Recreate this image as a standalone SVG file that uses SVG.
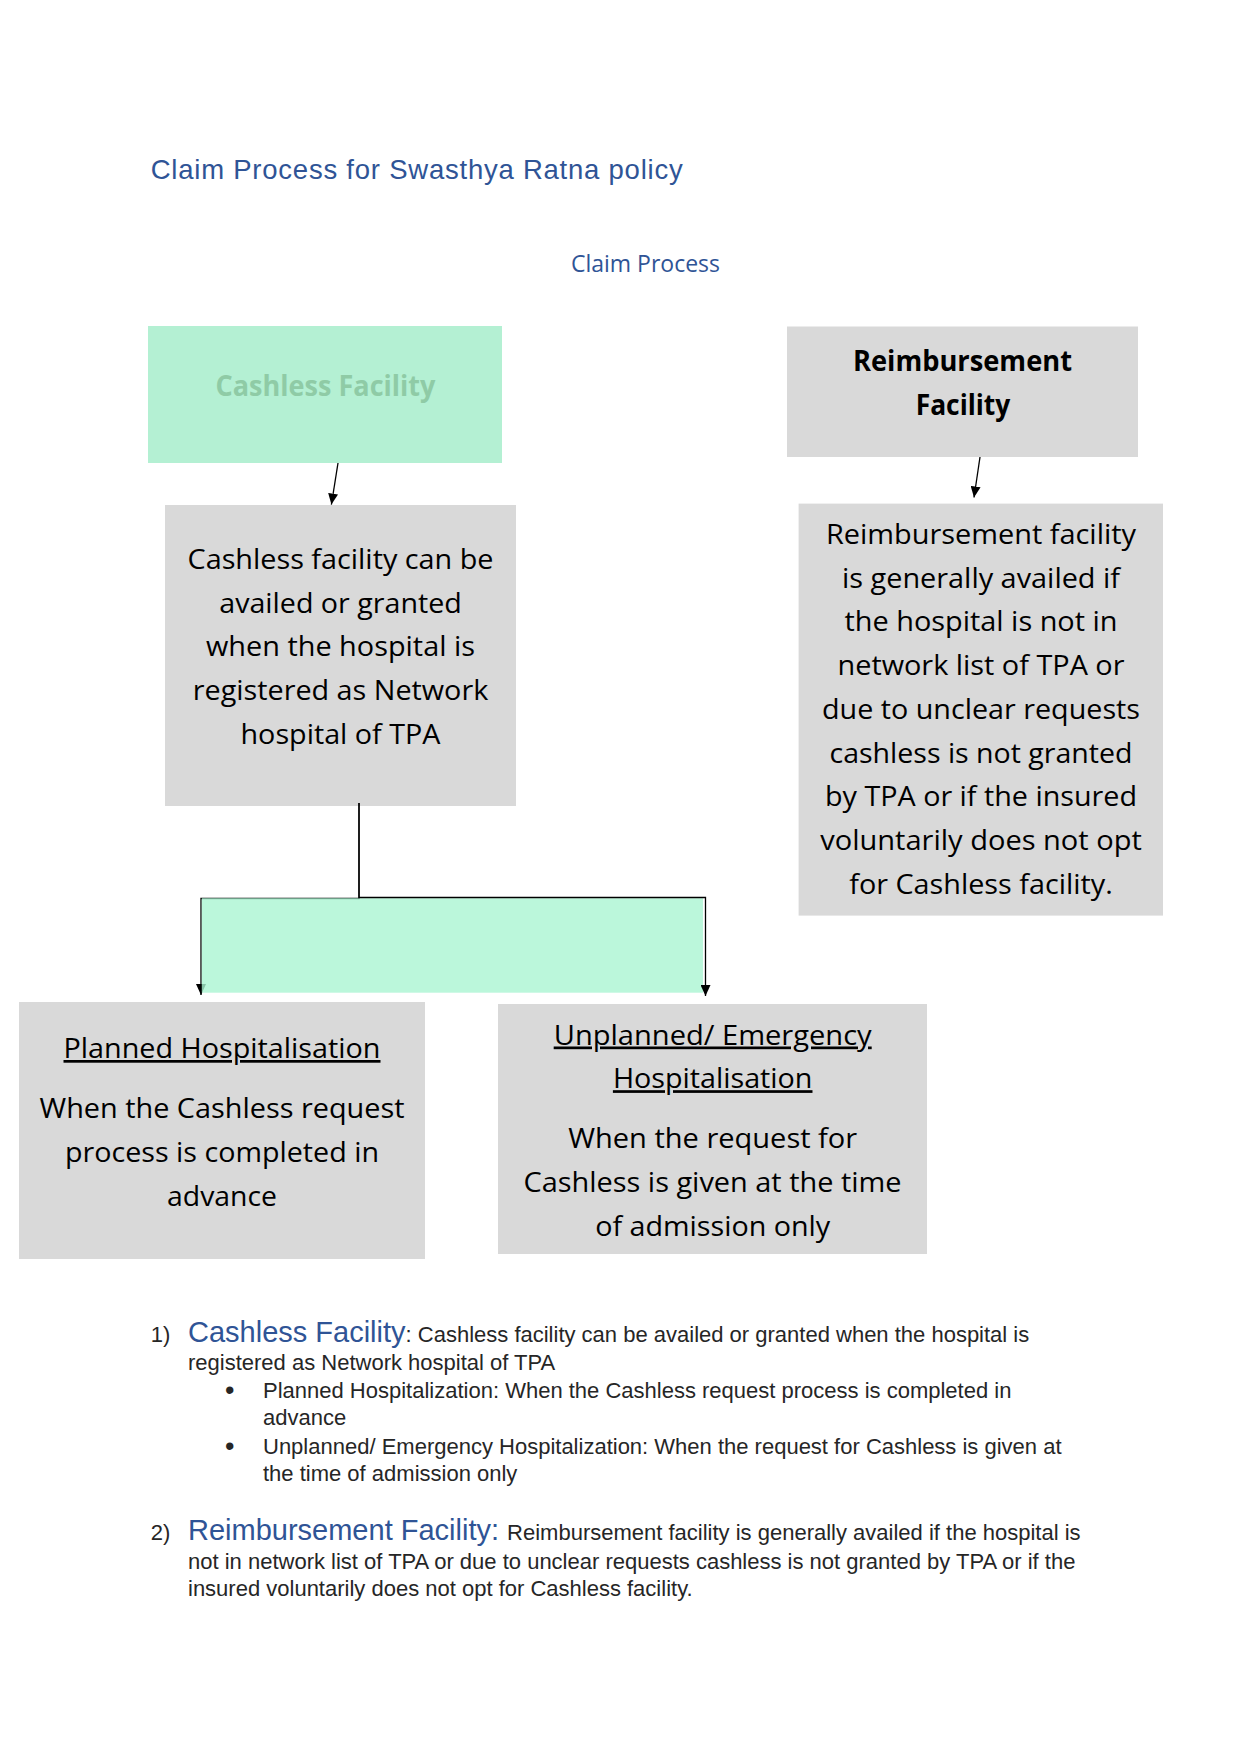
<svg xmlns="http://www.w3.org/2000/svg" width="1240" height="1753" viewBox="0 0 1240 1753">
<style>
.bg{fill:#ffffff}
.gray{fill:#D9D9D9}
.green1{fill:#B4F0D3}
.green2{fill:#AAF5D2;fill-opacity:0.8}
.bx{font-family:"Open Sans",Lato,sans-serif;font-size:27px;fill:#000000;text-anchor:middle}
.bxb{font-family:"Open Sans",Lato,sans-serif;font-size:28px;font-weight:bold;fill:#000000;text-anchor:middle}
.ul{text-decoration:underline}
.blue{fill:#2F5496}
.body{font-family:"Liberation Sans",Arial,sans-serif;font-size:22px;fill:#262626}
.bullet{font-family:"Liberation Sans",Arial,sans-serif;font-size:27px;fill:#262626}
.head{font-family:"Liberation Sans",Arial,sans-serif;font-size:29px;fill:#2F5496}
.conn{fill:none;stroke:#000000;stroke-width:1.3}
</style>
<defs>
<marker id="arr" markerUnits="userSpaceOnUse" markerWidth="11" markerHeight="10" viewBox="0 0 11 10" refX="11" refY="5" orient="auto">
<path d="M0,0 L11,5 L0,10 z" fill="#000000"/>
</marker>
</defs>
<rect class="bg" x="0" y="0" width="1240" height="1753"/>

<text id="title" x="150.7" y="179" font-family="'Liberation Sans',Arial,sans-serif" font-size="27.5" class="blue" textLength="532" lengthAdjust="spacing">Claim Process for Swasthya Ratna policy</text>
<text id="subtitle" x="645.5" y="272" font-family="'Open Sans',Lato,sans-serif" font-size="24" class="blue" text-anchor="middle" textLength="149" lengthAdjust="spacingAndGlyphs">Claim Process</text>

<g id="node-cashless-head">
<rect class="green1" x="148" y="326" width="354" height="137"/>
<text class="bxb" x="325.5" y="396" style="fill:#8FCBA6" textLength="220" lengthAdjust="spacingAndGlyphs">Cashless Facility</text>
</g>

<g id="node-cashless-desc">
<rect class="gray" x="165" y="505" width="351" height="301"/>
<text class="bx" x="340.5" y="568.6" textLength="306" lengthAdjust="spacingAndGlyphs">Cashless facility can be</text>
<text class="bx" x="340.5" y="612.5" textLength="242.5" lengthAdjust="spacingAndGlyphs">availed or granted</text>
<text class="bx" x="340.5" y="656" textLength="269" lengthAdjust="spacingAndGlyphs">when the hospital is</text>
<text class="bx" x="340.5" y="699.6" textLength="295.5" lengthAdjust="spacingAndGlyphs">registered as Network</text>
<text class="bx" x="340.5" y="743.5" textLength="200" lengthAdjust="spacingAndGlyphs">hospital of TPA</text>
</g>

<g id="node-reimb-head">
<rect class="gray" x="787" y="326.5" width="351" height="130.5"/>
<text class="bxb" x="962.5" y="371.4" textLength="219" lengthAdjust="spacingAndGlyphs">Reimbursement</text>
<text class="bxb" x="963" y="415" textLength="94.7" lengthAdjust="spacingAndGlyphs">Facility</text>
</g>

<g id="node-reimb-desc">
<rect class="gray" x="798.6" y="503.6" width="364.4" height="412"/>
<text class="bx" x="981" y="544" textLength="310" lengthAdjust="spacingAndGlyphs">Reimbursement facility</text>
<text class="bx" x="981" y="587.7" textLength="278" lengthAdjust="spacingAndGlyphs">is generally availed if</text>
<text class="bx" x="981" y="631.4" textLength="273" lengthAdjust="spacingAndGlyphs">the hospital is not in</text>
<text class="bx" x="981" y="675.1" textLength="287" lengthAdjust="spacingAndGlyphs">network list of TPA or</text>
<text class="bx" x="981" y="718.8" textLength="318" lengthAdjust="spacingAndGlyphs">due to unclear requests</text>
<text class="bx" x="981" y="762.5" textLength="303" lengthAdjust="spacingAndGlyphs">cashless is not granted</text>
<text class="bx" x="981" y="806.2" textLength="312" lengthAdjust="spacingAndGlyphs">by TPA or if the insured</text>
<text class="bx" x="981" y="849.9" textLength="321.5" lengthAdjust="spacingAndGlyphs">voluntarily does not opt</text>
<text class="bx" x="981" y="893.6" textLength="263.5" lengthAdjust="spacingAndGlyphs">for Cashless facility.</text>
</g>

<g id="node-planned">
<rect class="gray" x="19" y="1002" width="406" height="257"/>
<text class="bx ul" x="222" y="1058" textLength="317" lengthAdjust="spacingAndGlyphs">Planned Hospitalisation</text>
<text class="bx" x="222" y="1118" textLength="365" lengthAdjust="spacingAndGlyphs">When the Cashless request</text>
<text class="bx" x="222" y="1162" textLength="314" lengthAdjust="spacingAndGlyphs">process is completed in</text>
<text class="bx" x="222" y="1206" textLength="110" lengthAdjust="spacingAndGlyphs">advance</text>
</g>

<g id="node-unplanned">
<rect class="gray" x="498" y="1004" width="429" height="250"/>
<text class="bx ul" x="712.7" y="1044.5" textLength="318" lengthAdjust="spacingAndGlyphs">Unplanned/ Emergency</text>
<text class="bx ul" x="712.7" y="1088.2" textLength="199.6" lengthAdjust="spacingAndGlyphs">Hospitalisation</text>
<text class="bx" x="712.7" y="1148.2" textLength="289" lengthAdjust="spacingAndGlyphs">When the request for</text>
<text class="bx" x="712.5" y="1192" textLength="378" lengthAdjust="spacingAndGlyphs">Cashless is given at the time</text>
<text class="bx" x="712.7" y="1235.6" textLength="235" lengthAdjust="spacingAndGlyphs">of admission only</text>
</g>

<g id="connectors">
<line class="conn" x1="338" y1="463" x2="331.4" y2="504.6" marker-end="url(#arr)"/>
<line class="conn" x1="980" y1="457" x2="974" y2="497.5" marker-end="url(#arr)"/>
<path class="conn" d="M359,803 V898.5 H201 V995" marker-end="url(#arr)"/>
<rect id="branch-fill" class="green2" x="201.8" y="898.2" width="501.2" height="94.5"/>
<path class="conn" d="M359,803 V897.5 H705.5 V996" marker-end="url(#arr)"/>
</g>

<g id="notes">
<text class="body" x="150.7" y="1341.7">1)</text>
<text x="188" y="1341.7"><tspan class="head">Cashless Facility</tspan><tspan class="body">: Cashless facility can be availed or granted when the hospital is</tspan></text>
<text class="body" x="188" y="1370">registered as Network hospital of TPA</text>
<text class="bullet" x="225" y="1399.3">•</text>
<text class="body" x="263" y="1398.3">Planned Hospitalization: When the Cashless request process is completed in</text>
<text class="body" x="263" y="1425">advance</text>
<text class="bullet" x="225" y="1455">•</text>
<text class="body" x="263" y="1454">Unplanned/ Emergency Hospitalization: When the request for Cashless is given at</text>
<text class="body" x="263" y="1480.7">the time of admission only</text>
<text class="body" x="150.7" y="1540">2)</text>
<text x="188" y="1540"><tspan class="head">Reimbursement Facility: </tspan><tspan class="body">Reimbursement facility is generally availed if the hospital is</tspan></text>
<text class="body" x="188" y="1569.3">not in network list of TPA or due to unclear requests cashless is not granted by TPA or if the</text>
<text class="body" x="188" y="1596">insured voluntarily does not opt for Cashless facility.</text>
</g>
</svg>
